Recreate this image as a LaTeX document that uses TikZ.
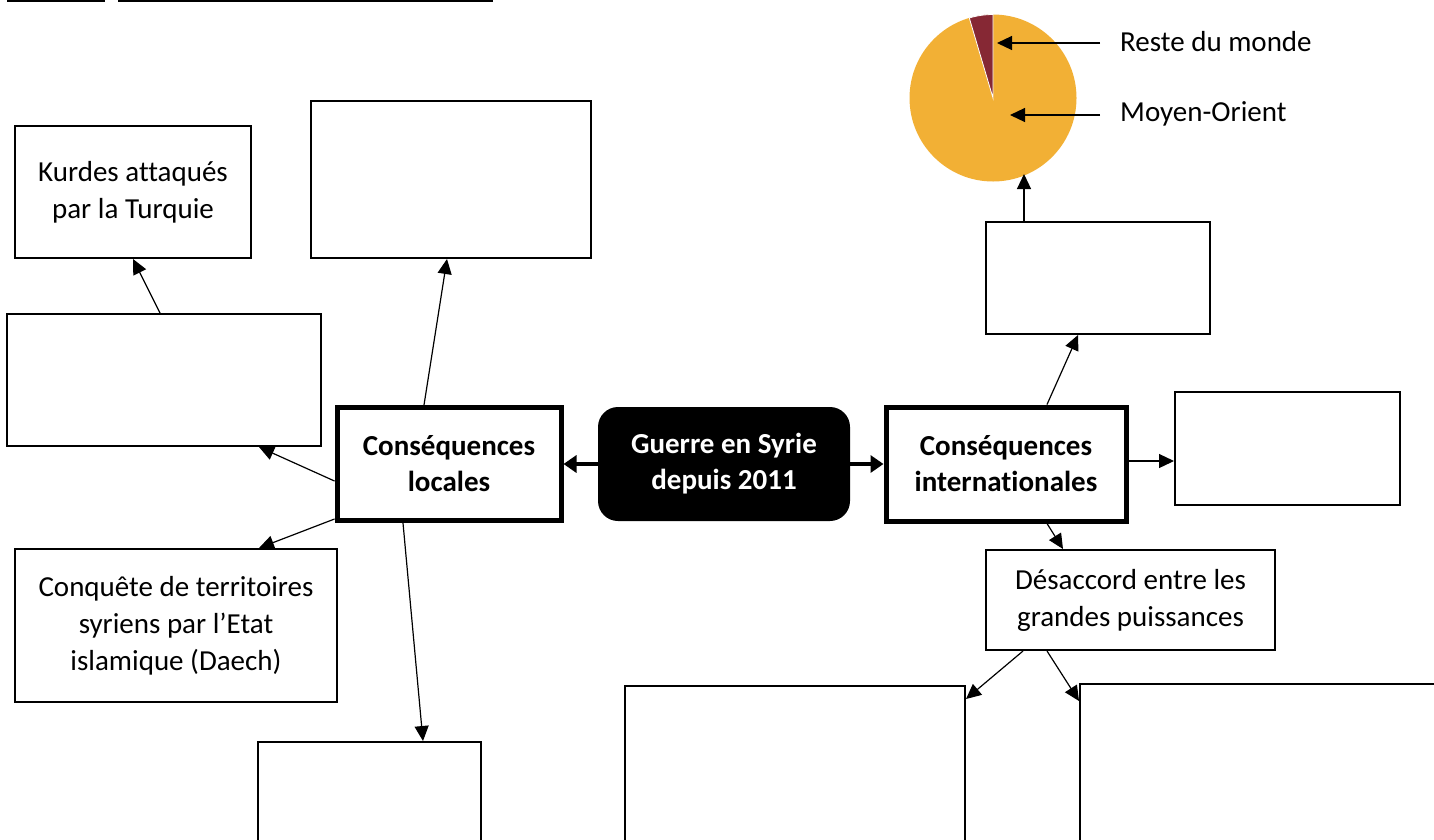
\documentclass[tikz,border=0pt]{standalone}
\usepackage{fontspec}
\setmainfont{Carlito}[Ligatures=CommonOff]
\usetikzlibrary{arrows.meta}

\definecolor{pieyellow}{RGB}{242,176,53}
\definecolor{piered}{RGB}{134,40,52}

\begin{document}
\begin{tikzpicture}[x=1pt,y=-1pt,
    every node/.style={font=\fontsize{29}{37}\selectfont, align=center, inner sep=0pt},
    box/.style={draw, line width=2pt},
    bigbox/.style={draw, line width=5pt, font=\fontsize{29}{36}\selectfont\bfseries},
    arr/.style={-{Triangle[length=15pt,width=14pt]}, line width=1.2pt},
    bigarr/.style={-{Triangle[length=13pt,width=17pt]}, line width=4pt}]
  \clip (0,0) rectangle (1434,839);

  % top underlines
  \draw[line width=2pt] (7,1) -- (105,1);
  \draw[line width=2pt] (118,1) -- (493,1);

  % pie
  \fill[pieyellow] (993,98) circle (83.5);
  \fill[piered, draw=white, line width=0.8pt] (993,98) -- ++(-90:83.5)
    arc[start angle=-90, end angle=-106.5, radius=83.5] -- cycle;
  \coordinate (piered) at (997,43);
  \coordinate (pieyel) at (1010,115);
  \coordinate (piebot) at (1024,174);
  \node[anchor=west] (reste) at (1120,42) {Reste du monde};
  \node[anchor=west] (moyen) at (1120,114) {Moyen-Orient};

  % centre
  \node[fill=black, rounded corners=20pt, minimum width=252, minimum height=114,
        text=white, font=\fontsize{29}{36}\selectfont\bfseries] (guerre) at (724,464)
        {Guerre en Syrie\\depuis 2011};
  \node[bigbox, minimum width=224, minimum height=113] (locales) at (449,464)
        {Conséquences\\locales};
  \node[bigbox, minimum width=240, minimum height=114] (intl) at (1006,464)
        {Conséquences\\internationales};

  % local side
  \node[box, minimum width=236, minimum height=132] (kurdes) at (133,192)
        {Kurdes attaqués\\par la Turquie};
  \node[box, minimum width=280, minimum height=157] (topmid) at (451,179.5) {};
  \node[box, minimum width=314, minimum height=132] (left) at (164,380) {};
  \node[box, minimum width=322, minimum height=153] (conquete) at (176,625.5)
        {Conquête de territoires\\syriens par l’Etat\\islamique (Daech)};
  \node[box, minimum width=223, minimum height=118] (botleft) at (369.5,801) {};

  % international side
  \node[box, minimum width=224, minimum height=112] (box1) at (1098,278) {};
  \node[box, minimum width=225, minimum height=113] (right) at (1287.5,448.5) {};
  \node[box, minimum width=289, minimum height=100] (desaccord) at (1130.5,600)
        {Désaccord entre les\\grandes puissances};
  \node[box, minimum width=340, minimum height=174] (botmid) at (795,773) {};
  \node[box, minimum width=380, minimum height=176] (botright) at (1270,772) {};

  % arrows
  \draw[bigarr] (guerre.west) -- (locales.east);
  \draw[bigarr] (guerre.east) -- (intl.west);

  \draw[arr] ([xshift=-25pt]locales.north) -- ([xshift=-4pt]topmid.south);
  \draw[arr] ([xshift=-4pt]left.north) -- (kurdes.south);
  \draw[arr] ([yshift=-17pt]locales.west) -- ([xshift=95pt]left.south);
  \draw[arr] ([yshift=4pt]locales.south west) -- ([xshift=83pt]conquete.north);
  \draw[arr] ([xshift=-46pt]locales.south) -- ([xshift=53.5pt]botleft.north);

  \draw[arr] ([xshift=41pt]intl.north) -- ([xshift=-20pt]box1.south);
  \draw[arr] ([yshift=3pt]intl.east) -- ([yshift=-12.5pt]right.west);
  \draw[arr] ([xshift=41pt]intl.south) -- ([xshift=-67.5pt]desaccord.north);
  \draw[arr] ([xshift=-107.5pt]desaccord.south) -- ([yshift=-14pt]botmid.north east);
  \draw[arr] ([xshift=-83.5pt]desaccord.south) -- ([yshift=-18pt]botright.north west);

  \draw[arr] ([xshift=-74pt]box1.north) -- (piebot);
  \draw[arr] ([xshift=-20pt,yshift=-1pt]reste.west) -- (piered);
  \draw[arr] ([xshift=-20pt,yshift=-1pt]moyen.west) -- (pieyel);
\end{tikzpicture}
\end{document}
